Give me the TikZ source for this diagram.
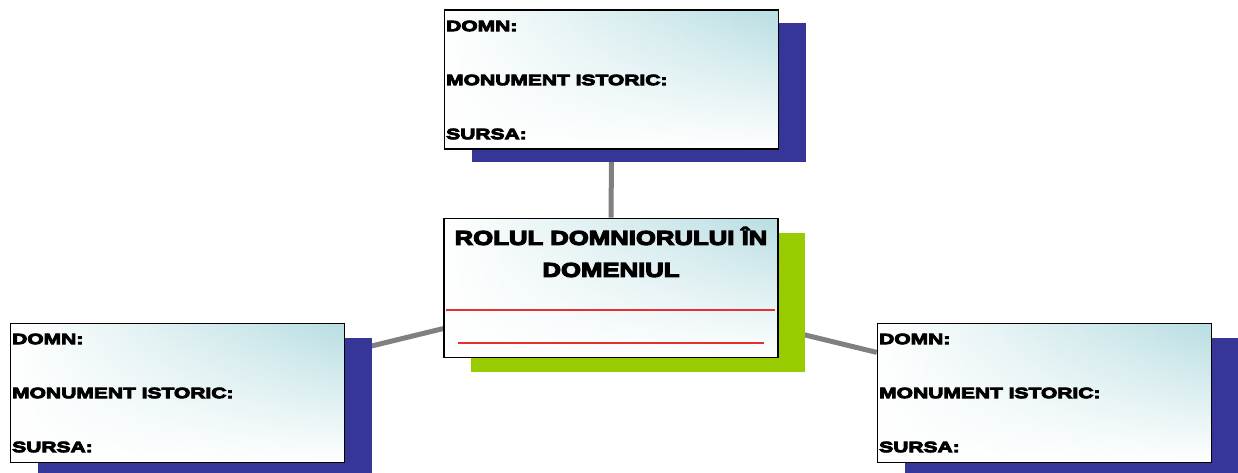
\documentclass[tikz,border=0pt]{standalone}
\usepackage{fontspec}
\usetikzlibrary{backgrounds,fadings}
\newfontfamily\blk{Liberation Sans Bold}[FakeBold=6,FakeStretch=1.40]
\newfontfamily\blkt{Liberation Sans Bold}[FakeBold=6,FakeStretch=1.285]
\definecolor{navyshadow}{RGB}{54,54,153}
\definecolor{greenshadow}{RGB}{153,204,0}
\definecolor{boxblue}{RGB}{184,222,226}
\definecolor{linered}{RGB}{228,48,48}
\definecolor{conngray}{RGB}{128,128,128}
\tikzfading[name=fadebottom, top color=transparent!100, middle color=transparent!80, bottom color=transparent!0]
\begin{document}
\begin{tikzpicture}[x=1pt,y=-1pt,
  box/.style={draw=black,line width=1.6pt,minimum width=334pt,minimum height=139pt,inner sep=0pt,
    path picture={
      \shade[left color=white,middle color=boxblue!55,right color=boxblue]
        (path picture bounding box.south west) rectangle (path picture bounding box.north east);
      \fill[white,path fading=fadebottom]
        (path picture bounding box.south west) rectangle (path picture bounding box.north east);}},
  shadowbox/.style={fill=#1,draw=none,minimum width=334pt,minimum height=139pt,inner sep=0pt},
  lbl/.style={anchor=west,inner sep=0pt,font=\blk\fontsize{15}{16}\selectfont},
  conn/.style={draw=conngray,line width=5pt}]
\useasboundingbox (0,0) rectangle (1238,473);
% shadows
\node[shadowbox=navyshadow] (ts) at (638.5,92.5) {};
\node[shadowbox=greenshadow] (cs) at (638,302) {};
\node[shadowbox=navyshadow] (ls) at (204.5,407) {};
\node[shadowbox=navyshadow] (rs) at (1071.5,407) {};
% boxes
\node[box] (top) at (611.5,79.5) {};
\node[box] (center) at (611,288) {};
\node[box] (left) at (177.5,393) {};
\node[box] (right) at (1044.5,393) {};
% connectors
\begin{pgfonlayer}{background}
\draw[conn] (center) -- (top);
\draw[conn] (center) -- (left);
\draw[conn] (center) -- (right);
\end{pgfonlayer}
% labels
\node[lbl] (t1) at (446,26) {DOMN:};
\node[lbl] (t2) at (446,80) {MONUMENT ISTORIC:};
\node[lbl] (t3) at (446,134) {SURSA:};
\node[lbl] (l1) at (12,339) {DOMN:};
\node[lbl] (l2) at (12,393) {MONUMENT ISTORIC:};
\node[lbl] (l3) at (12,447) {SURSA:};
\node[lbl] (r1) at (879,339) {DOMN:};
\node[lbl] (r2) at (879,393) {MONUMENT ISTORIC:};
\node[lbl] (r3) at (879,447) {SURSA:};
\node[inner sep=0pt,align=center,font=\blkt\fontsize{20}{32}\selectfont] (title) at (611,252) {ROLUL DOMNIORULUI ÎN\\DOMENIUL};
\coordinate (ra1) at (446,310);
\coordinate (rb1) at (775,310);
\coordinate (ra2) at (458,343);
\coordinate (rb2) at (764,343);
\draw[linered,line width=1.4pt] (ra1) -- (rb1);
\draw[linered,line width=1.4pt] (ra2) -- (rb2);
\end{tikzpicture}
\end{document}
